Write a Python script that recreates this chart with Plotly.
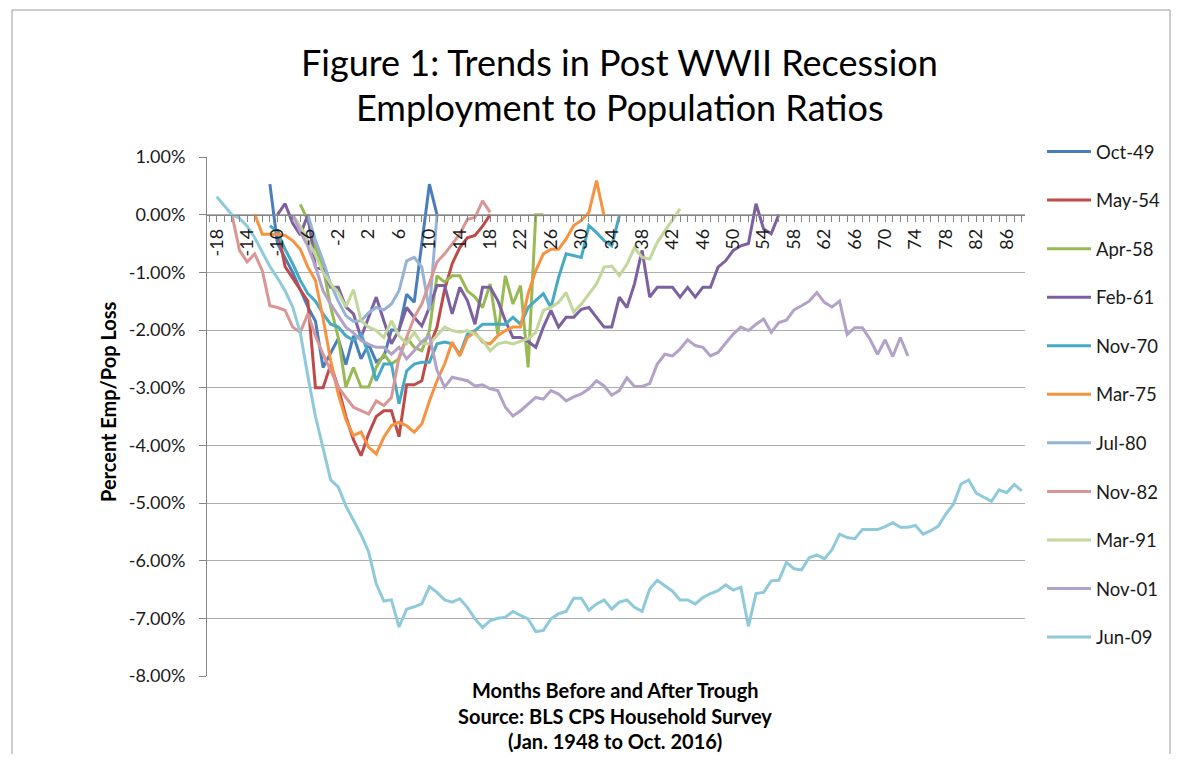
import plotly.graph_objects as go

# ---------------- data (percent change in emp/pop ratio) ----------------
SERIES_NAMES = ["Oct-49", "May-54", "Apr-58", "Feb-61", "Nov-70", "Mar-75",
                "Jul-80", "Nov-82", "Mar-91", "Nov-01", "Jun-09"]
SERIES_COLORS = ["#4A7EBB", "#BE4B48", "#98B954", "#7D60A0", "#46AAC5", "#F69240",
                 "#95B3D7", "#D99694", "#C3D69B", "#B3A2C7", "#8FCADB"]

# first month (relative to trough) of each series
START_MONTHS = [-11, -10, -7, -10, -11, -13, -6, -16, -8, -8, -18]

oct49 = [0.53, -0.50, -0.75, -1.00, -1.30, -1.60, -1.85, -2.65, -2.40, -2.15, -2.60,
         -2.10, -2.50, -2.25, -2.55, -2.47, -2.00, -2.00, -1.38, -1.52, -0.50, 0.53, 0.00]

may54 = [-0.25, -0.90, -1.10, -1.30, -1.50, -3.00, -3.00, -2.60, -3.00, -3.50,
         -3.90, -4.18, -3.80, -3.50, -3.40, -3.40, -3.85, -2.95, -2.95, -2.88,
         -2.30, -1.95, -1.30, -0.85, -0.57, -0.40, -0.36, -0.20, 0.00]

apr58 = [0.18, -0.10, -0.57, -0.91, -1.60, -2.13, -2.99,
         -2.65, -2.99, -2.99, -2.65, -2.42, -2.59, -2.50, -2.13, -2.30, -2.36,
         -2.01, -1.06, -1.17, -1.06, -1.06, -1.32, -1.43, -1.61, -1.20, -2.07,
         -1.06, -1.55, -1.23, -2.65, 0.00, 0.00]

feb61 = [0.00, 0.19, -0.15, -0.35, 0.00, -0.91, -0.95, -1.26, -1.26, -1.60,
         -1.72, -2.13, -1.78, -1.43, -1.84, -2.24, -2.00, -1.61, -1.78, -1.93,
         -1.61, -1.23, -1.23, -1.72, -1.26, -1.49, -1.90, -1.26, -1.26, -1.49,
         -1.84, -2.13, -2.13, -2.20, -2.30, -1.95, -1.66, -1.95, -1.78, -1.78,
         -1.64, -1.61, -1.78, -1.95, -1.95, -1.43, -1.61, -1.20, -0.62, -1.43,
         -1.26, -1.26, -1.26, -1.43, -1.26, -1.43, -1.26, -1.26, -0.91, -0.80,
         -0.62, -0.54, -0.50, 0.19, -0.25, -0.33, 0.00]

nov70 = [-0.19, -0.30, -0.60, -0.85, -1.14, -1.37, -1.50, -1.72, -1.90, -1.95, -2.10,
         -2.18, -2.07, -2.42, -2.88, -2.59, -2.59, -3.28, -2.71, -2.59, -2.56,
         -2.56, -2.24, -2.21, -2.24, -2.42, -2.07, -2.01, -1.90, -1.90, -1.90,
         -1.90, -1.78, -1.90, -1.61, -1.49, -1.37, -1.61, -1.09, -0.68, -0.71,
         -0.74, -0.19, -0.31, -0.45, -0.54, -0.02]

mar75 = [0.01, -0.34, -0.34, -0.34, -0.36, -0.45, -0.60, -0.91, -1.14, -1.80, -2.53, -3.11, -3.55,
         -3.83, -3.77, -4.03, -4.15, -3.86, -3.66, -3.60, -3.66, -3.77, -3.63,
         -3.23, -2.88, -2.59, -2.21, -2.45, -2.13, -2.04, -2.21, -2.24, -2.10,
         -2.01, -1.95, -1.95, -1.37, -0.97, -0.68, -0.60, -0.60, -0.42, -0.19,
         -0.10, 0.04, 0.59, -0.02]

jul80 = [0.00, -0.45, -0.80, -1.20, -1.50, -1.75,
         -1.85, -1.84, -1.70, -1.61, -1.65, -1.55, -1.32, -0.80, -0.74, -0.91, -1.66, 0.00]

nov82 = [0.00, -0.62, -0.82, -0.68, -0.97, -1.58, -1.61, -1.66, -1.95, -2.04, -1.72, -2.10,
         -2.42, -2.70, -2.99, -3.17,
         -3.34, -3.40, -3.46, -3.23, -3.31, -3.17, -2.47, -2.13, -1.78, -1.55,
         -1.20, -0.82, -0.68, -0.51, -0.34, -0.08, -0.05, 0.24, 0.04]

mar91 = [0.00, -0.20, -0.45, -0.70, -1.00, -1.20, -1.35, -1.60,
         -1.30, -1.84, -1.95, -2.01, -2.13, -1.84, -2.10, -2.24, -2.04, -2.24,
         -2.24, -2.10, -1.95, -2.01, -2.04, -2.01, -2.07, -2.18, -2.36, -2.24,
         -2.21, -2.24, -2.20, -2.15, -2.04, -1.66, -1.61, -1.52, -1.35, -1.69,
         -1.55, -1.38, -1.20, -0.91, -0.89, -1.06, -0.86, -0.57, -0.74, -0.77,
         -0.48, -0.28, -0.10, 0.10]

nov01 = [0.00, -0.30, -0.55, -0.90, -1.32, -1.55, -1.75, -1.95,
         -2.05, -2.18, -2.25, -2.30, -2.30, -2.42, -2.30, -2.50, -2.36, -2.20,
         -2.10, -2.70, -2.99, -2.82, -2.85, -2.88, -2.97, -2.95, -3.02, -3.05,
         -3.34, -3.49, -3.40, -3.28, -3.17, -3.20, -3.05, -3.11, -3.23, -3.16,
         -3.11, -3.02, -2.88, -2.97, -3.13, -3.05, -2.83, -2.98, -2.98, -2.93,
         -2.59, -2.42, -2.45, -2.33, -2.17, -2.27, -2.30, -2.45, -2.39, -2.23,
         -2.07, -1.95, -2.01, -1.90, -1.81, -2.04, -1.87, -1.83, -1.65, -1.58,
         -1.50, -1.35, -1.52, -1.60, -1.50, -2.08, -1.96, -1.96, -2.16, -2.42,
         -2.17, -2.46, -2.13, -2.45]

jun09 = [0.31, 0.15, 0.00, -0.06, -0.20, -0.40, -0.65, -0.90, -1.10, -1.32,
         -1.60, -2.05, -2.80, -3.50, -4.05, -4.60, -4.72, -5.05, -5.30, -5.55,
         -5.85, -6.40, -6.70, -6.68, -7.15, -6.84, -6.80, -6.75, -6.45, -6.55,
         -6.68, -6.72, -6.66, -6.81, -7.01, -7.16, -7.04, -7.00, -6.98, -6.88,
         -6.95, -7.01, -7.23, -7.21, -7.01, -6.92, -6.88, -6.65, -6.65, -6.86,
         -6.75, -6.68, -6.84, -6.72, -6.68, -6.81, -6.88, -6.49, -6.34, -6.43,
         -6.53, -6.68, -6.68, -6.75, -6.64, -6.57, -6.52, -6.42, -6.51, -6.46,
         -7.14, -6.57, -6.55, -6.35, -6.34, -6.03, -6.14, -6.16, -5.95, -5.90,
         -5.97, -5.81, -5.54, -5.60, -5.62, -5.46, -5.46, -5.46, -5.41, -5.34,
         -5.42, -5.42, -5.39, -5.54, -5.48, -5.40, -5.19, -5.02, -4.67, -4.60,
         -4.83, -4.90, -4.97, -4.77, -4.82, -4.68, -4.79]

SERIES_VALUES = [oct49, may54, apr58, feb61, nov70, mar75, jul80, nov82, mar91, nov01, jun09]

X_TICK_VALUES = [-18, -14, -10, -6, -2, 2, 6, 10, 14, 18, 22, 26, 30, 34, 38, 42,
                 46, 50, 54, 58, 62, 66, 70, 74, 78, 82, 86]
X_TICK_LABELS = ["-18", "-14", "-10", "-6", "-2", "2", "6", "10", "14", "18", "22", "26",
                 "30", "34", "38", "42", "46", "50", "54", "58", "62", "66", "70", "74",
                 "78", "82", "86"]
Y_TICK_VALUES = [1, 0, -1, -2, -3, -4, -5, -6, -7, -8]
Y_TICK_LABELS = ["1.00%", "0.00%", "-1.00%", "-2.00%", "-3.00%", "-4.00%",
                 "-5.00%", "-6.00%", "-7.00%", "-8.00%"]

TITLE_LINES = ["Figure 1: Trends in Post WWII Recession", "Employment to Population Ratios"]
X_TITLE_LINES = ["Months Before and After Trough", "Source: BLS CPS Household Survey",
                 "(Jan. 1948 to Oct. 2016)"]
Y_TITLE = "Percent Emp/Pop Loss"

# ---------------- figure ----------------
FONT = "Lato"
TXT = "#1a1a1a"
AXIS = "#868686"
GRID = "#ADADAD"

fig = go.Figure()
for name, color, start, vals in zip(SERIES_NAMES, SERIES_COLORS, START_MONTHS, SERIES_VALUES):
    fig.add_trace(go.Scatter(
        x=list(range(start, start + len(vals))), y=vals, mode="lines", name=name,
        legendgroup=name, line=dict(color=color, width=3), hoverinfo="skip"))

# page has an 8px body margin: figure size/margins are set so the plot lands where intended
PAGE_OFF = 8
W, H = 1163, 746
L, T = 199, 149
PW, PH = 818, 519
R, B = W - L - PW, H - T - PH


def px_x(p):
    return (p - PAGE_OFF - L) / PW


def px_y(p):
    return (T + PH - (p - PAGE_OFF)) / PH


annotations = []
for line, yc in zip(TITLE_LINES, [62, 107]):
    annotations.append(dict(text=line, x=px_x(619), y=px_y(yc), xref="paper", yref="paper",
                            showarrow=False, xanchor="center", yanchor="middle",
                            font=dict(family=FONT, size=36, color="#000000")))
for line, yc in zip(X_TITLE_LINES, [690, 716, 741]):
    annotations.append(dict(text="<b>%s</b>" % line, x=px_x(615), y=px_y(yc), xref="paper",
                            yref="paper", showarrow=False, xanchor="center", yanchor="middle",
                            font=dict(family=FONT, size=20, color="#000000")))
annotations.append(dict(text="<b>%s</b>" % Y_TITLE, x=px_x(108), y=px_y(402), xref="paper",
                        yref="paper", showarrow=False, textangle=-90, xanchor="center",
                        yanchor="middle", font=dict(family=FONT, size=20, color="#000000")))

fig.update_layout(
    width=W, height=H,
    margin=dict(l=L, r=R, t=T, b=B, autoexpand=False),
    paper_bgcolor="white", plot_bgcolor="white",
    font=dict(family=FONT, color=TXT),
    showlegend=True,
    legend=dict(x=px_x(1042), y=px_y(133), xanchor="left", yanchor="top",
                font=dict(family=FONT, size=18.5, color=TXT), maxheight=700,
                tracegroupgap=21.5, bgcolor="rgba(0,0,0,0)", itemwidth=44),
    xaxis=dict(range=[-19.28, 88.41], anchor="free", position=8 / 9, side="bottom",
               tickmode="array", tickvals=X_TICK_VALUES, ticktext=X_TICK_LABELS,
               tickangle=-90, ticks="outside", ticklen=6, tickcolor=AXIS,
               minor=dict(tick0=-18, dtick=1, ticks="outside", ticklen=6, tickcolor=AXIS,
                          showgrid=False),
               showline=True, linecolor=AXIS, linewidth=1, showgrid=False, zeroline=False,
               tickfont=dict(family=FONT, size=18, color=TXT), automargin=False),
    yaxis=dict(range=[-8, 1], tickmode="array", tickvals=Y_TICK_VALUES, ticktext=Y_TICK_LABELS,
               ticks="outside", ticklen=7, tickcolor=AXIS, showline=True, linecolor=AXIS,
               linewidth=1, showgrid=True, gridcolor=GRID, gridwidth=1, zeroline=False,
               tickfont=dict(family=FONT, size=18, color=TXT), ticklabelstandoff=10,
               automargin=False),
    annotations=annotations,
    shapes=[dict(type="rect", xref="paper", yref="paper", x0=px_x(12), x1=px_x(1170),
                 y0=px_y(790), y1=px_y(10), line=dict(color="#9A9A9A", width=1),
                 fillcolor="rgba(0,0,0,0)", layer="below")],
)

fig.write_html("out.html")
